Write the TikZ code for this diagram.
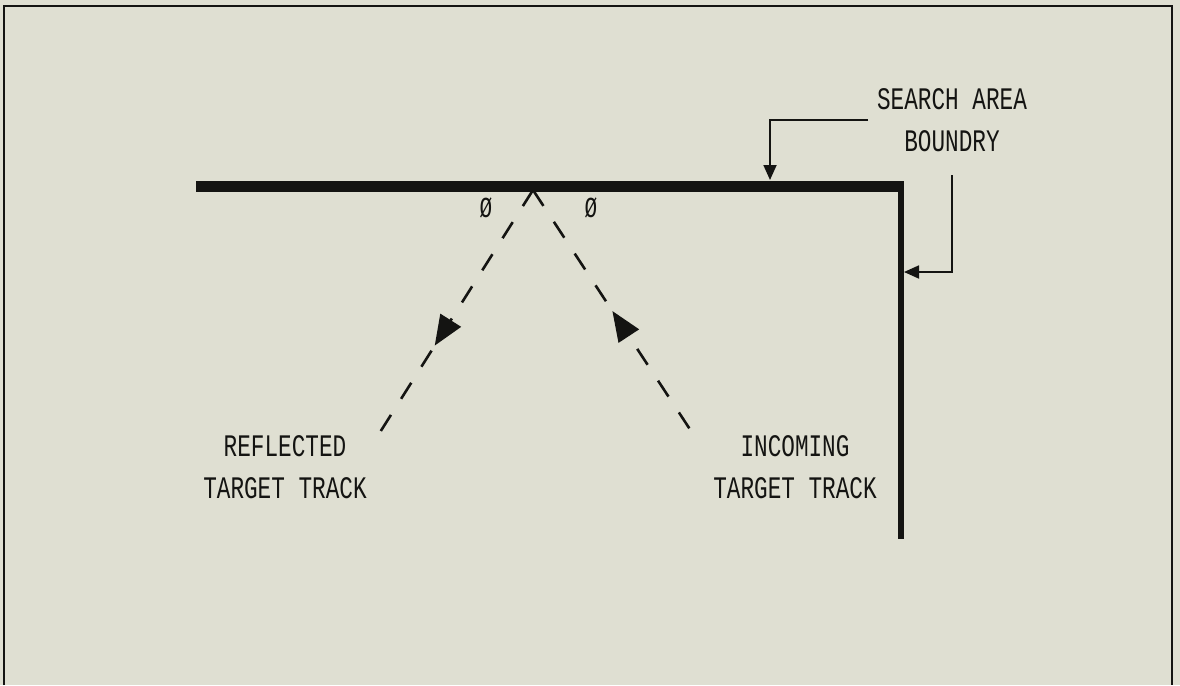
\documentclass[tikz,border=0pt]{standalone}
\usepackage{fontspec}
\newfontfamily\plotfont{Liberation Mono}
\usetikzlibrary{arrows.meta,decorations.markings}
\definecolor{paper}{RGB}{223,223,210}
\definecolor{ink}{RGB}{20,20,18}
\newcommand{\tx}[1]{\scalebox{1}[1.38]{#1}}
\tikzset{
  lbl/.style={font=\plotfont\fontsize{22.7}{42}\selectfont, text=ink, align=center, inner sep=0pt},
  philbl/.style={font=\plotfont\fontsize{21}{22}\selectfont, text=ink, inner sep=0pt},
  boundary/.style={draw=ink, line width=11pt},
  track/.style={draw=ink, line width=2.6pt, dash pattern=on 19pt off 19pt},
  callout/.style={draw=ink, line width=1.8pt, -{Triangle[length=15pt,width=13pt]}},
}
\begin{document}
\begin{tikzpicture}[x=1pt,y=-1pt]
\useasboundingbox (0,0) rectangle (1180,685);
\fill[paper] (0,0) rectangle (1180,685);
% frame
\draw[ink, line width=2pt] (4,685) -- (4,6) -- (1172,6) -- (1172,685);
% boundary
\coordinate (bl) at (196,186);
\coordinate (corner) at (901,186);
\coordinate (bb) at (901,539);
\draw[boundary] (bl) -- (904,186);
\draw[draw=ink, line width=6pt] (901,181) -- (bb);
% tracks
\coordinate (apex) at (533,190);
\coordinate (lend) at (377,437);
\coordinate (rend) at (695,437);
\draw[track, postaction={decorate}, decoration={markings, mark=at position 0.63 with {\arrow{Triangle[length=30pt,width=24pt]}}}] (apex) -- (lend);
\draw[track, postaction={decorate}, decoration={markings, mark=at position 0.49 with {\arrowreversed{Triangle[length=30pt,width=24pt]}}}] (apex) -- (rend);
% phi labels
\node[philbl] (phil) at (486,208) {\tx{Ø}};
\node[philbl] (phir) at (591,208) {\tx{Ø}};
% labels
\node[lbl] (search) at (952,120) {\tx{SEARCH AREA}\\\tx{BOUNDRY}};
\node[lbl] (refl) at (285,467) {\tx{REFLECTED}\\\tx{TARGET TRACK}};
\node[lbl] (inc) at (795,467) {\tx{INCOMING}\\\tx{TARGET TRACK}};
% callouts
\coordinate (c1s) at (868,120);
\coordinate (c1k) at (770,120);
\coordinate (c1e) at (770,180);
\coordinate (c2s) at (952,175);
\coordinate (c2k) at (952,272);
\coordinate (c2e) at (904,272);
\draw[callout] (c1s) -- (c1k) -- (c1e);
\draw[callout] (c2s) -- (c2k) -- (c2e);
\end{tikzpicture}
\end{document}
